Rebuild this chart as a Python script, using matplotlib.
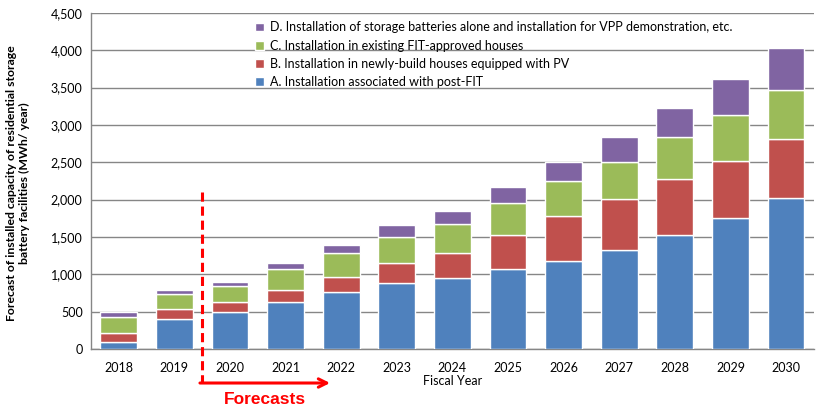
import numpy as np
import matplotlib.pyplot as plt

years = ['2018', '2019', '2020', '2021', '2022', '2023', '2024',
         '2025', '2026', '2027', '2028', '2029', '2030']
post_fit = [100, 400, 490, 625, 760, 880, 945, 1070, 1175, 1325, 1520, 1750, 2020]
new_pv = [110, 135, 135, 160, 205, 270, 335, 455, 600, 680, 750, 765, 795]
existing_fit = [215, 195, 215, 280, 315, 350, 390, 430, 470, 505, 570, 615, 650]
alone_vpp = [65, 55, 60, 90, 115, 155, 180, 220, 265, 330, 390, 480, 570]

labels = ['A. Installation associated with post-FIT',
          'B. Installation in newly-build houses equipped with PV',
          'C. Installation in existing FIT-approved houses',
          'D. Installation of storage batteries alone and installation for VPP demonstration, etc.']
colors = ['#4F81BD', '#C0504D', '#9BBB59', '#8064A2']

plt.rcParams['font.family'] = ['Lato', 'DejaVu Sans']

fig = plt.figure(figsize=(8.33, 4.16), dpi=100)
ax = fig.add_axes([0.1092, 0.161, 0.8678, 0.808])

x = np.arange(len(years))
bottom = np.zeros(len(years))
handles = []
for vals, lab, col in zip([post_fit, new_pv, existing_fit, alone_vpp], labels, colors):
    b = ax.bar(x, vals, width=0.66, bottom=bottom, color=col, edgecolor='white',
               linewidth=1.0, label=lab, zorder=3)
    handles.append(b)
    bottom += np.array(vals)

ax.set_xlim(-0.5, len(years) - 0.5)
ax.set_ylim(0, 4500)
ax.set_yticks(range(0, 4501, 500))
ax.set_yticklabels([f'{v:,}' for v in range(0, 4501, 500)])
ax.set_xticks(x)
ax.set_xticklabels(years)
ax.tick_params(length=0, labelsize=9, pad=6)
ax.tick_params(axis='x', pad=9)
ax.grid(axis='y', color='#868686', linewidth=1.0, zorder=0)
for s in ['top', 'right']:
    ax.spines[s].set_visible(False)
for s in ['left', 'bottom']:
    ax.spines[s].set_color('#868686')
    ax.spines[s].set_linewidth(1.0)

ax.set_xlabel('Fiscal Year', fontsize=9, labelpad=1)
fig.text(0.022, 0.56, 'Forecast of installed capacity of residential storage\nbattery facilities (MWh/ year)',
         rotation=90, ha='center', va='center', fontsize=8.8, fontweight='bold',
         linespacing=1.2)

ax.legend(handles[::-1], labels[::-1], loc='upper left', bbox_to_anchor=(0.21, 1.012),
          frameon=False, fontsize=9, handlelength=0.7, handleheight=0.7,
          handletextpad=0.5, labelspacing=0.5, borderpad=0.5)

# forecast marker
ax.plot([1.5, 1.5], [2100, -455], color='red', linestyle=(0, (3, 1.6)), linewidth=2.2,
        clip_on=False, zorder=5)
ax.annotate('', xy=(3.8, -455), xytext=(1.46, -455), annotation_clip=False,
            arrowprops=dict(arrowstyle='->', color='red', lw=2.2,
                            mutation_scale=15, shrinkA=0, shrinkB=0))
ax.text(2.62, -680, 'Forecasts', color='red', fontsize=12.5, fontweight='bold',
        family='Liberation Sans', ha='center', va='center', clip_on=False)

fig.savefig('out.png', dpi=100)
